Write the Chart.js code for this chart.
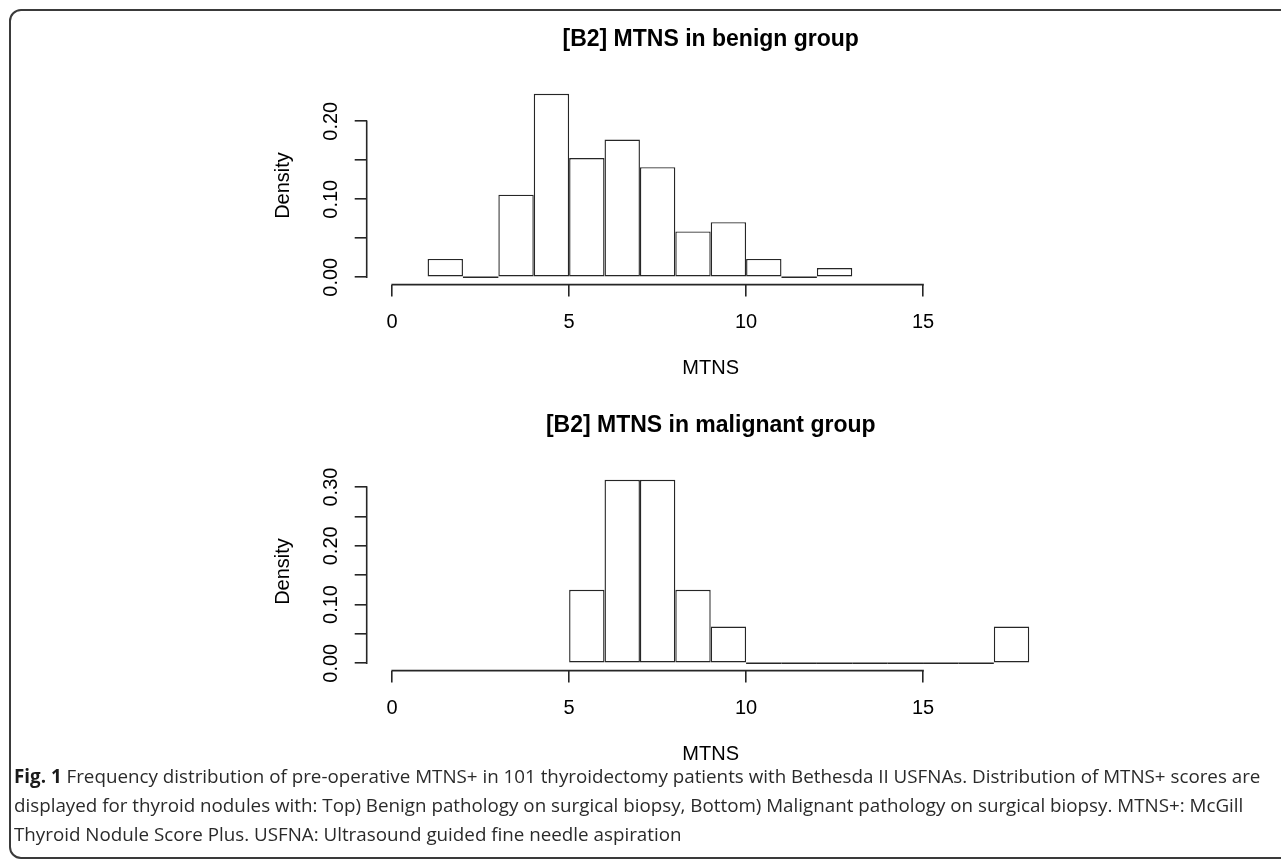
<!DOCTYPE html>
<html>
<head>
<meta charset="utf-8">
<script src="https://cdn.jsdelivr.net/npm/chart.js@4.4.1/dist/chart.umd.min.js"></script>
<style>
  html, body { margin: 0; padding: 0; background: #fff; width: 1281px; height: 860px; overflow: hidden; }
  #frame { position: absolute; left: 9px; top: 9px; width: 1330px; height: 846px; border: 2px solid #3a3a3a; border-radius: 12px; }
  canvas.cv { position: absolute; left: 0; width: 1281px; height: 386px; }
  #c1 { top: 0; }
  #c2 { top: 386px; }
  #cap { position: absolute; left: 14px; top: 762px; font-family: "Open Sans", sans-serif; font-size: 18.8px; line-height: 29px; color: #2a2a2a; white-space: nowrap; }
  #cap b { font-weight: 700; color: #1a1a1a; }
</style>
</head>
<body>
<div id="frame"></div>
<canvas id="c1" class="cv" width="1281" height="386"></canvas>
<canvas id="c2" class="cv" width="1281" height="386"></canvas>
<div id="cap"><b>Fig. 1</b> Frequency distribution of pre-operative MTNS+ in 101 thyroidectomy patients with Bethesda II USFNAs. Distribution of MTNS+ scores are<br>displayed for thyroid nodules with: Top) Benign pathology on surgical biopsy, Bottom) Malignant pathology on surgical biopsy. MTNS+: McGill<br>Thyroid Nodule Score Plus. USFNA: Ultrasound guided fine needle aspiration</div>
<script>
// ---- data ----
const benignBinStarts = [1, 2, 3, 4, 5, 6, 7, 8, 9, 10, 11, 12];
const benignDensity   = [0.0235, 0, 0.1059, 0.2353, 0.1529, 0.1765, 0.1412, 0.0588, 0.0706, 0.0235, 0, 0.0118];
const malignantBinStarts = [5, 6, 7, 8, 9, 10, 11, 12, 13, 14, 15, 16, 17];
const malignantDensity   = [0.125, 0.3125, 0.3125, 0.125, 0.0625, 0, 0, 0, 0, 0, 0, 0, 0.0625];
const binWidth = 1;
const xLimits = [0, 18];
const xTicks = [0, 5, 10, 15];
const benignYTicks = [0, 0.05, 0.10, 0.15, 0.20];
const benignYTickLabels = ['0.00', '', '0.10', '', '0.20'];
const malignantYTicks = [0, 0.05, 0.10, 0.15, 0.20, 0.25, 0.30];
const malignantYTickLabels = ['0.00', '', '0.10', '', '0.20', '', '0.30'];
const titles = ['[B2] MTNS in benign group', '[B2] MTNS in malignant group'];
const xTitle = 'MTNS';
const yTitle = 'Density';

Chart.defaults.font.family = '"Liberation Sans", Arial, sans-serif';
Chart.defaults.color = '#000';

const INK = '#262626';
const LW = 1.6;

const rAxesPlugin = {
  id: 'rAxes',
  afterDatasetsDraw(chart, args, opts) {
    const ctx = chart.ctx, xs = chart.scales.x, ys = chart.scales.y;
    const starts = opts.starts || [], values = opts.values || [];
    ctx.save();
    ctx.strokeStyle = INK;
    ctx.lineWidth = LW;
    // zero-height bins are drawn as a flat line at density 0
    starts.forEach((s, i) => {
      if (values[i] === 0) {
        const yp = ys.getPixelForValue(0);
        ctx.beginPath();
        ctx.moveTo(xs.getPixelForValue(s), yp);
        ctx.lineTo(xs.getPixelForValue(s + binWidth), yp);
        ctx.stroke();
      }
    });
    ctx.restore();
  },
  afterDraw(chart) {
    const ctx = chart.ctx, xs = chart.scales.x, ys = chart.scales.y, a = chart.chartArea;
    ctx.save();
    ctx.strokeStyle = INK;
    ctx.lineWidth = LW;
    const yt = ys.ticks, xt = xs.ticks;
    ctx.beginPath();
    ctx.moveTo(a.left, ys.getPixelForValue(yt[0].value) + LW / 2);
    ctx.lineTo(a.left, ys.getPixelForValue(yt[yt.length - 1].value) - LW / 2);
    ctx.moveTo(xs.getPixelForValue(xt[0].value) - LW / 2, a.bottom);
    ctx.lineTo(xs.getPixelForValue(xt[xt.length - 1].value) + LW / 2, a.bottom);
    ctx.stroke();
    ctx.restore();
  }
};

function makeHist(canvasId, title, starts, values, yTicks, yTickLabels) {
  const ymax = Math.max(...values);
  const xr = xLimits[1] - xLimits[0];
  return new Chart(document.getElementById(canvasId), {
    type: 'bar',
    data: {
      datasets: [{
        data: starts.map((s, i) => ({ x: s + binWidth / 2, y: values[i] })),
        backgroundColor: '#ffffff',
        borderColor: INK,
        borderWidth: 1.4,
        borderSkipped: false,
        barPercentage: 1,
        categoryPercentage: 1,
        inflateAmount: 0
      }]
    },
    options: {
      responsive: false,
      animation: false,
      events: [],
      layout: { padding: { left: 260, right: 226.3, top: 0, bottom: 0 } },
      plugins: {
        legend: { display: false },
        tooltip: { enabled: false },
        rAxes: { starts: starts, values: values },
        title: {
          display: true,
          text: title,
          fullSize: false,
          color: '#000',
          font: { size: 23, weight: 'bold', lineHeight: 1.2 },
          padding: { top: 26.2, bottom: 32.6 }
        }
      },
      scales: {
        x: {
          type: 'linear',
          min: xLimits[0] - 0.04 * xr,
          max: xLimits[1] + 0.04 * xr,
          offset: false,
          afterBuildTicks: s => { s.ticks = xTicks.map(v => ({ value: v })); },
          afterFit: s => { s.height = 101.4; },
          ticks: {
            autoSkip: false, maxRotation: 0, padding: 14,
            font: { size: 20 }, color: '#000',
            callback: v => String(v)
          },
          grid: { drawOnChartArea: false, drawTicks: true, tickLength: 12, offset: false, color: INK, lineWidth: LW },
          border: { display: false },
          title: { display: true, text: xTitle, font: { size: 20, lineHeight: 1.2 }, color: '#000', padding: { top: 0, bottom: 6 } }
        },
        y: {
          type: 'linear',
          min: -0.04 * ymax,
          max: 1.04 * ymax,
          afterBuildTicks: s => { s.ticks = yTicks.map(v => ({ value: v })); },
          afterFit: s => { s.width = 106.7; },
          ticks: {
            autoSkip: false, minRotation: 90, maxRotation: 90, crossAlign: 'center', padding: 3.5,
            font: { size: 20 }, color: '#000',
            callback: (v, i) => yTickLabels[i]
          },
          grid: { drawOnChartArea: false, drawTicks: true, tickLength: 12, color: INK, lineWidth: LW },
          border: { display: false },
          title: { display: true, text: yTitle, font: { size: 20, lineHeight: 1.2 }, color: '#000', padding: { top: 11.3, bottom: 0 } }
        }
      }
    },
    plugins: [rAxesPlugin]
  });
}

makeHist('c1', titles[0], benignBinStarts, benignDensity, benignYTicks, benignYTickLabels);
makeHist('c2', titles[1], malignantBinStarts, malignantDensity, malignantYTicks, malignantYTickLabels);
</script>
</body>
</html>
